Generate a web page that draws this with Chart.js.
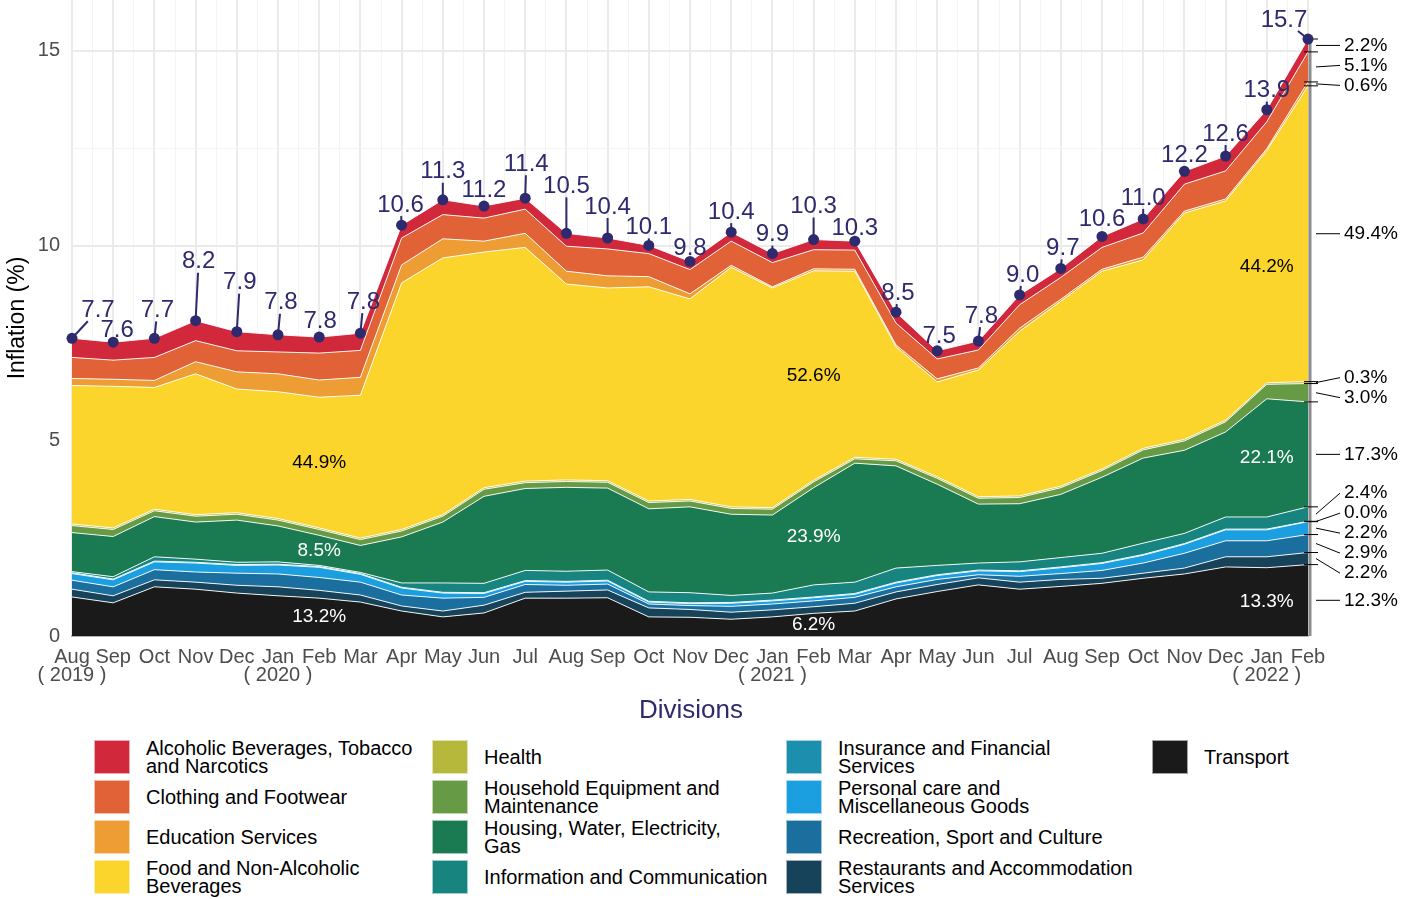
<!DOCTYPE html>
<html>
<head>
<meta charset="utf-8">
<script src="https://cdn.jsdelivr.net/npm/chart.js@4.4.1/dist/chart.umd.min.js"></script>
<style>
  html, body { margin: 0; padding: 0; background: #fff; }
  #page { position: relative; width: 1418px; height: 899px; font-family: "Liberation Sans", Arial, sans-serif; }
  #chartBox { position: absolute; left: 0; top: 0; width: 1418px; height: 700px; }
  #legendTitle { position: absolute; top: 694px; left: 0; width: 1382px; text-align: center; font-size: 26px; color: #2e2a6e; }
  .item { position: absolute; height: 34px; display: flex; align-items: center; }
  .key { width: 36px; height: 34px; box-sizing: border-box; border: 1px solid rgba(255,255,255,0.6); flex: none; }
  .txt { margin-left: 16px; font-size: 20px; line-height: 18px; color: #000; white-space: pre; }
</style>
</head>
<body>
<div id="page">
  <div id="chartBox"><canvas id="inflationChart"></canvas></div>
  <div id="legendTitle">Divisions</div>
  <div id="legend"></div>
</div>
<script>
// Meses (Aug 2019 - Feb 2022)
const months = ['Aug','Sep','Oct','Nov','Dec','Jan','Feb','Mar','Apr','May','Jun','Jul',
                'Aug','Sep','Oct','Nov','Dec','Jan','Feb','Mar','Apr','May','Jun','Jul',
                'Aug','Sep','Oct','Nov','Dec','Jan','Feb'];
const yearLabels = { 0: '( 2019 )', 5: '( 2020 )', 17: '( 2021 )', 29: '( 2022 )' };

// Inflación total (%)
const totals = [7.7, 7.6, 7.7, 8.2, 7.9, 7.8, 7.8, 7.8, 10.6, 11.3, 11.2, 11.4, 10.5, 10.4, 10.1, 9.8,
                10.4, 9.9, 10.3, 10.3, 8.5, 7.5, 7.8, 9.0, 9.7, 10.6, 11.0, 12.2, 12.6, 13.9, 15.7];

// Contribuciones por división (puntos porcentuales), de abajo hacia arriba
const transport   = [1.00,0.85,1.26,1.20,1.10,1.03,0.97,0.87,0.64,0.49,0.59,0.97,0.97,0.98,0.49,0.48,0.43,0.49,0.58,0.64,0.95,1.14,1.31,1.20,1.27,1.35,1.48,1.59,1.77,1.75,1.83];
const restaurants = [0.20,0.18,0.18,0.18,0.20,0.23,0.20,0.18,0.13,0.15,0.20,0.15,0.18,0.20,0.23,0.20,0.18,0.18,0.17,0.20,0.18,0.18,0.18,0.18,0.18,0.13,0.13,0.15,0.26,0.28,0.31];
const recreation  = [0.23,0.23,0.26,0.26,0.31,0.33,0.33,0.33,0.28,0.33,0.20,0.20,0.15,0.15,0.10,0.10,0.15,0.15,0.15,0.15,0.13,0.13,0.08,0.15,0.15,0.20,0.26,0.38,0.41,0.41,0.46];
const personal    = [0.17,0.18,0.20,0.23,0.20,0.23,0.26,0.20,0.18,0.13,0.10,0.08,0.08,0.08,0.05,0.05,0.08,0.08,0.08,0.08,0.10,0.10,0.10,0.12,0.15,0.18,0.20,0.23,0.28,0.28,0.33];
const insurance   = [0.02,0.02,0.02,0.02,0.02,0.02,0.02,0.02,0.02,0.02,0.02,0.02,0.02,0.02,0.02,0.02,0.02,0.02,0.02,0.02,0.02,0.02,0.02,0.02,0.02,0.02,0.02,0.02,0.02,0.02,0.01];
const information = [0.03,0.06,0.11,0.08,0.06,0.06,0.03,0.03,0.11,0.24,0.24,0.26,0.26,0.26,0.24,0.26,0.18,0.18,0.31,0.29,0.36,0.24,0.18,0.23,0.24,0.24,0.29,0.26,0.31,0.31,0.37];
const housing     = [1.00,1.03,1.03,0.95,1.08,0.92,0.77,0.69,1.18,1.56,2.23,2.10,2.15,2.10,2.13,2.20,2.08,2.00,2.49,3.05,2.62,2.08,1.51,1.49,1.62,1.95,2.18,2.13,2.18,3.03,2.69];
const household   = [0.18,0.18,0.15,0.15,0.15,0.15,0.15,0.15,0.15,0.15,0.18,0.15,0.15,0.15,0.16,0.15,0.15,0.15,0.15,0.11,0.13,0.15,0.15,0.16,0.17,0.17,0.21,0.24,0.26,0.37,0.47];
const health      = [0.04,0.04,0.04,0.04,0.04,0.04,0.04,0.04,0.04,0.04,0.04,0.04,0.04,0.04,0.04,0.04,0.04,0.04,0.04,0.04,0.04,0.04,0.04,0.04,0.04,0.04,0.04,0.04,0.04,0.04,0.05];
const food        = [3.55,3.63,3.12,3.61,3.17,3.25,3.35,3.66,6.32,6.58,6.04,5.99,5.02,4.94,5.49,5.14,6.14,5.63,5.37,4.77,2.88,2.43,3.25,4.22,4.74,5.07,4.83,5.80,5.62,5.95,7.58];
const education   = [0.18,0.18,0.18,0.31,0.44,0.46,0.44,0.46,0.46,0.49,0.28,0.36,0.33,0.31,0.26,0.13,0.05,0.03,0.05,0.05,0.05,0.08,0.05,0.08,0.05,0.05,0.07,0.05,0.05,0.05,0.10];
const clothing    = [0.54,0.49,0.59,0.54,0.54,0.56,0.69,0.69,0.69,0.62,0.59,0.62,0.64,0.69,0.59,0.62,0.62,0.62,0.49,0.49,0.56,0.51,0.46,0.60,0.56,0.56,0.62,0.69,0.72,0.69,0.77];
const alcoholic   = [0.49,0.46,0.49,0.51,0.49,0.44,0.41,0.44,0.33,0.38,0.31,0.28,0.33,0.28,0.21,0.21,0.23,0.23,0.26,0.23,0.28,0.21,0.23,0.25,0.23,0.28,0.36,0.33,0.38,0.31,0.33];

// Participación en Feb 2022 (etiquetas de la derecha), mismo orden
const febShares = ['12.3%','2.2%','2.9%','2.2%','0.0%','2.4%','17.3%','3.0%','0.3%','49.4%','0.6%','5.1%','2.2%'];

// Participaciones dentro del área
const insideMonths    = [6, 18, 29];
const foodShares      = ['44.9%', '52.6%', '44.2%'];
const housingShares   = ['8.5%', '23.9%', '22.1%'];
const transportShares = ['13.2%', '6.2%', '13.3%'];

const divisions = [
  { name: 'Transport', data: transport, color: '#1a1a1a' },
  { name: 'Restaurants and Accommodation Services', data: restaurants, color: '#17435a' },
  { name: 'Recreation, Sport and Culture', data: recreation, color: '#1b6f9f' },
  { name: 'Personal care and Miscellaneous Goods', data: personal, color: '#1c9fe0' },
  { name: 'Insurance and Financial Services', data: insurance, color: '#1b8fad' },
  { name: 'Information and Communication', data: information, color: '#178480' },
  { name: 'Housing, Water, Electricity, Gas', data: housing, color: '#1a7a51' },
  { name: 'Household Equipment and Maintenance', data: household, color: '#679a45' },
  { name: 'Health', data: health, color: '#b5b83a' },
  { name: 'Food and Non-Alcoholic Beverages', data: food, color: '#fbd52c' },
  { name: 'Education Services', data: education, color: '#ee9c34' },
  { name: 'Clothing and Footwear', data: clothing, color: '#e06236' },
  { name: 'Alcoholic Beverages, Tobacco and Narcotics', data: alcoholic, color: '#d2283c' }
];

// desplazamiento de etiquetas de total (px, respecto al punto)
const labelOffsets = [[26,-28],[4,-12],[3,-28],[3,-59],[3,-49],[3,-32],[1,-16],[3,-31],[-1,-20],[0,-28],
  [0,-16],[1,-34],[0,-47],[0,-31],[0,-18],[0,-13],[0,-20],[0,-19],[0,-33],[0,-13],[2,-19],[2,-14],
  [3,-25],[3,-20],[2,-20],[0,-17],[0,-21],[0,-16],[0,-22],[0,-19],[-24,-19]];

const FONT = '"Liberation Sans", Arial, sans-serif';
const NAVY = '#2e2a6e';

function wrap(text, width) {
  const words = text.split(' ');
  const lines = [];
  let cur = '';
  words.forEach(w => {
    if (cur && (cur + ' ' + w).length > width) { lines.push(cur); cur = w; }
    else cur = cur ? cur + ' ' + w : w;
  });
  lines.push(cur);
  return lines.join('\n');
}

function layerPx(chart, layer, i) {
  const top = chart.getDatasetMeta(layer).data[i];
  const bottom = layer === 0 ? chart.scales.y.getPixelForValue(0) : chart.getDatasetMeta(layer - 1).data[i].y;
  return { x: top.x, top: top.y, bottom: bottom, mid: (top.y + bottom) / 2 };
}

// separa etiquetas que se solapan (agrupa y centra)
function repel(mids, gap) {
  let clusters = mids.map((m, i) => ({ idx: [i], mean: m })).sort((a, b) => a.mean - b.mean);
  let changed = true;
  while (changed) {
    changed = false;
    for (let k = 0; k < clusters.length - 1; k++) {
      const a = clusters[k], b = clusters[k + 1];
      const aEnd = a.mean + (a.idx.length - 1) * gap / 2;
      const bStart = b.mean - (b.idx.length - 1) * gap / 2;
      if (bStart - aEnd < gap) {
        const idx = a.idx.concat(b.idx).sort((p, q) => mids[p] - mids[q]);
        const mean = idx.reduce((s, j) => s + mids[j], 0) / idx.length;
        clusters.splice(k, 2, { idx, mean });
        changed = true;
        break;
      }
    }
  }
  const pos = [];
  clusters.forEach(c => {
    const start = c.mean - (c.idx.length - 1) * gap / 2;
    c.idx.forEach((j, n) => { pos[j] = start + n * gap; });
  });
  return pos;
}

const annotations = {
  id: 'annotations',
  afterDatasetsDraw(chart) {
    const ctx = chart.ctx;
    const yScale = chart.scales.y;
    const last = months.length - 1;
    const topLayer = divisions.length - 1;
    ctx.save();

    // etiquetas internas
    ctx.font = '19px ' + FONT;
    ctx.textAlign = 'center';
    ctx.textBaseline = 'middle';
    insideMonths.forEach((m, k) => {
      [[9, foodShares[k], '#000'], [6, housingShares[k], '#fff'], [0, transportShares[k], '#fff']].forEach(([layer, txt, col]) => {
        const p = layerPx(chart, layer, m);
        ctx.fillStyle = col;
        ctx.fillText(txt, p.x, p.mid);
      });
    });

    // barra gris del último mes
    const lastTop = chart.getDatasetMeta(topLayer).data[last];
    ctx.strokeStyle = '#8c8c8c';
    ctx.lineWidth = 3;
    ctx.beginPath();
    ctx.moveTo(lastTop.x + 2, yScale.getPixelForValue(0));
    ctx.lineTo(lastTop.x + 2, lastTop.y);
    ctx.stroke();

    // marcas y etiquetas de participación a la derecha
    const mids = divisions.map((d, l) => layerPx(chart, l, last).mid);
    const pos = repel(mids, 20);
    ctx.strokeStyle = '#000';
    ctx.lineWidth = 1;
    divisions.forEach((d, l) => {
      const p = layerPx(chart, l, last);
      ctx.beginPath();
      ctx.moveTo(p.x - 4, p.top);
      ctx.lineTo(p.x + 10, p.top);
      ctx.stroke();
      ctx.beginPath();
      ctx.moveTo(p.x + 8, p.mid);
      ctx.lineTo(p.x + 32, pos[l]);
      ctx.stroke();
    });
    ctx.font = '19px ' + FONT;
    ctx.fillStyle = '#000';
    ctx.textAlign = 'left';
    divisions.forEach((d, l) => {
      ctx.fillText(febShares[l], lastTop.x + 36, pos[l]);
    });

    // puntos y etiquetas de total
    ctx.font = '24px ' + FONT;
    ctx.textAlign = 'center';
    chart.getDatasetMeta(topLayer).data.forEach((pt, i) => {
      const txt = totals[i].toFixed(1);
      const [dx, dy] = labelOffsets[i];
      const lx = pt.x + dx, ly = pt.y + dy;
      const hw = ctx.measureText(txt).width / 2 + 2, hh = 11;
      const vx = pt.x - lx, vy = pt.y - ly;
      const t = Math.min(vx ? hw / Math.abs(vx) : Infinity, vy ? hh / Math.abs(vy) : Infinity);
      if (t < 1 && Math.hypot(vx, vy) * (1 - t) > 6) {
        ctx.strokeStyle = NAVY;
        ctx.lineWidth = 2;
        ctx.beginPath();
        ctx.moveTo(pt.x, pt.y);
        ctx.lineTo(lx + vx * t, ly + vy * t);
        ctx.stroke();
      }
      ctx.fillStyle = NAVY;
      ctx.beginPath();
      ctx.arc(pt.x, pt.y, 5.5, 0, Math.PI * 2);
      ctx.fill();
      ctx.fillText(txt, lx, ly);
    });
    ctx.restore();
  }
};

const ctx = document.getElementById('inflationChart').getContext('2d');
new Chart(ctx, {
  type: 'line',
  data: {
    labels: months.map((m, i) => i),
    datasets: divisions.map((d, i) => ({
      label: d.name,
      data: d.data,
      backgroundColor: d.color,
      borderColor: 'rgba(255,255,255,0.9)',
      borderWidth: 1,
      pointRadius: 0,
      tension: 0,
      fill: i === 0 ? 'origin' : '-1'
    }))
  },
  options: {
    responsive: true,
    maintainAspectRatio: false,
    animation: false,
    layout: { padding: { left: 0, right: 110, top: 0, bottom: 0 } },
    plugins: { legend: { display: false }, tooltip: { enabled: false } },
    scales: {
      x: {
        type: 'linear',
        min: 0,
        max: 30,
        afterBuildTicks: s => { s.ticks = []; for (let v = 0; v <= 30; v += 0.5) s.ticks.push({ value: v }); },
        afterFit: s => { s.height = 64; s.paddingLeft = 0; s.paddingRight = 0; },
        grid: {
          drawTicks: false,
          color: c => Number.isInteger(c.tick.value) ? '#ebebeb' : '#f4f4f4',
          lineWidth: c => Number.isInteger(c.tick.value) ? 2 : 1
        },
        border: { display: true, color: '#b3b3b3', width: 2 },
        ticks: {
          autoSkip: false,
          maxRotation: 0,
          minRotation: 0,
          padding: 12,
          color: '#4d4d4d',
          font: { family: FONT, size: 20, lineHeight: 0.9 },
          callback: v => Number.isInteger(v) ? (yearLabels[v] ? [months[v], yearLabels[v]] : months[v]) : ''
        }
      },
      y: {
        stacked: true,
        min: 0,
        max: 16.3,
        afterBuildTicks: s => { s.ticks = []; for (let v = 0; v <= 15; v += 2.5) s.ticks.push({ value: v }); },
        afterFit: s => { s.width = 72; s.paddingTop = 0; s.paddingBottom = 0; },
        grid: {
          drawTicks: false,
          color: c => c.tick.value % 5 === 0 ? '#ebebeb' : '#f4f4f4',
          lineWidth: c => c.tick.value % 5 === 0 ? 2 : 1
        },
        border: { display: false },
        title: { display: true, text: 'Inflation (%)', color: '#000', font: { family: FONT, size: 23 }, padding: { top: 4, bottom: 0 } },
        ticks: {
          padding: 12,
          color: '#4d4d4d',
          font: { family: FONT, size: 20 },
          callback: v => v % 5 === 0 ? String(v) : ''
        }
      }
    }
  },
  plugins: [annotations]
});

// Leyenda (orden alfabético, por columnas)
const colX = [94, 432, 786, 1152];
const legend = document.getElementById('legend');
divisions.slice().reverse().forEach((d, k) => {
  const item = document.createElement('div');
  item.className = 'item';
  item.style.left = colX[Math.floor(k / 4)] + 'px';
  item.style.top = (740 + 40 * (k % 4)) + 'px';
  item.innerHTML = '<div class="key" style="background:' + d.color + '"></div><div class="txt"></div>';
  item.querySelector('.txt').textContent = wrap(d.name, 30);
  legend.appendChild(item);
});
</script>
</body>
</html>
